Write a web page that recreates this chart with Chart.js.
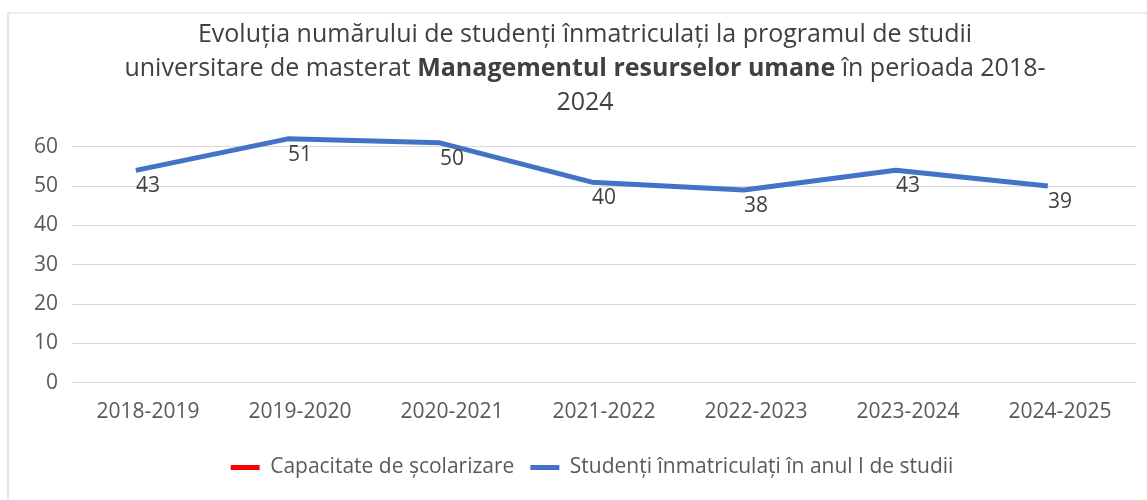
<!DOCTYPE html>
<html lang="ro">
<head>
    <meta charset="UTF-8">
    <title>Evoluția numărului de studenți înmatriculați</title>
    <script src="https://cdn.jsdelivr.net/npm/chart.js@4.4.8/dist/chart.umd.min.js"></script>
    <style>
        html, body { margin: 0; padding: 0; background: #fff; }
        #frame {
            position: absolute; left: 7px; top: 12px; right: 0; bottom: 0;
            border-left: 2px solid #e6e6e6; border-top: 2px solid #ececec;
        }
        #chart { position: absolute; left: 0; top: 0; }
    </style>
</head>
<body>
    <div id="frame"></div>
    <canvas id="chart" width="1147" height="500"></canvas>

    <script>
        // date
        const years = ['2018-2019', '2019-2020', '2020-2021', '2021-2022', '2022-2023', '2023-2024', '2024-2025'];
        const enrolled = [43, 51, 50, 40, 38, 43, 39];
        const capacity = [];   // seria rosie nu apare pe grafic, doar in legenda
        const yTicks = [0, 10, 20, 30, 40, 50, 60];

        const titleLines = [
            [['Evoluția numărului de studenți înmatriculați la programul de studii', false]],
            [['universitare de masterat ', false], ['Managementul resurselor umane', true], [' în perioada 2018-', false]],
            [['2024', false]]
        ];

        // in original linia albastra e desenata mai sus (~11 unitati) si putin la stanga fata de etichete
        const lineLift = 11;
        const lineShift = 0.08;
        const yMax = 64;

        const FONT = "'Open Sans', sans-serif";

        const titlePlugin = {
            id: 'mixedTitle',
            afterLayout(chart) {
                // legenda e putin spre dreapta in original
                chart.legend.left += 14;
                chart.legend.right += 14;
            },
            afterDraw(chart) {
                const ctx = chart.ctx;
                const cx = 585;
                const baselines = [42, 76, 110];
                ctx.save();
                ctx.fillStyle = '#404040';
                ctx.textBaseline = 'alphabetic';
                ctx.textAlign = 'left';
                titleLines.forEach((parts, i) => {
                    let total = 0;
                    const widths = parts.map(([txt, bold]) => {
                        ctx.font = (bold ? 'bold ' : '') + '25px ' + FONT;
                        const w = ctx.measureText(txt).width;
                        total += w;
                        return w;
                    });
                    let x = cx - total / 2;
                    parts.forEach(([txt, bold], j) => {
                        ctx.font = (bold ? 'bold ' : '') + '25px ' + FONT;
                        ctx.fillText(txt, x, baselines[i]);
                        x += widths[j];
                    });
                });
                ctx.restore();
            }
        };

        const labelPlugin = {
            id: 'valueLabels',
            afterDatasetsDraw(chart) {
                const ctx = chart.ctx;
                const meta = chart.getDatasetMeta(1);
                const xScale = chart.scales.x;
                ctx.save();
                ctx.font = '21px ' + FONT;
                ctx.fillStyle = '#404040';
                ctx.textAlign = 'center';
                ctx.textBaseline = 'middle';
                meta.data.forEach((pt, i) => {
                    ctx.fillText(String(enrolled[i]), xScale.getPixelForValue(i), pt.y + 16);
                });
                ctx.restore();
            }
        };

        const ctx = document.getElementById('chart').getContext('2d');
        const chart = new Chart(ctx, {
            type: 'line',
            data: {
                labels: years,
                datasets: [
                    {
                        label: 'Capacitate de școlarizare',
                        data: capacity,
                        borderColor: '#FF0000',
                        backgroundColor: '#FF0000',
                        borderWidth: 5,
                        pointRadius: 0
                    },
                    {
                        label: 'Studenți înmatriculați în anul I de studii',
                        data: enrolled.map((v, i) => ({ x: i, y: v })),
                        xAxisID: 'x2',
                        yAxisID: 'y2',
                        borderColor: '#4472C4',
                        backgroundColor: '#4472C4',
                        borderWidth: 5,
                        borderJoinStyle: 'round',
                        pointRadius: 0,
                        tension: 0,
                        fill: false
                    }
                ]
            },
            options: {
                responsive: false,
                animation: false,
                devicePixelRatio: 1,
                layout: { padding: { top: 131, left: 20, right: 11, bottom: 12 } },
                plugins: {
                    title: { display: false },
                    tooltip: { enabled: false },
                    legend: {
                        position: 'bottom',
                        labels: {
                            usePointStyle: true,
                            pointStyle: 'line',
                            pointStyleWidth: 29,
                            color: '#595959',
                            font: { family: FONT, size: 21 },
                            padding: 16
                        }
                    }
                },
                scales: {
                    x: {
                        offset: true,
                        afterFit(scale) { scale.height += 7; },
                        grid: { display: false },
                        border: { display: false },
                        ticks: { color: '#595959', font: { family: FONT, size: 21 }, padding: 9 }
                    },
                    y: {
                        min: 0,
                        max: yMax,
                        afterBuildTicks(scale) {
                            scale.ticks = yTicks.map(v => ({ value: v }));
                        },
                        afterFit(scale) { scale.width = 52; },
                        grid: { color: '#d9d9d9', lineWidth: 1, drawTicks: false },
                        border: { display: false },
                        ticks: { color: '#595959', font: { family: FONT, size: 21 }, padding: 14 }
                    },
                    x2: { type: 'linear', display: false, min: -0.5 + lineShift, max: years.length - 0.5 + lineShift },
                    y2: { type: 'linear', display: false, min: -lineLift, max: yMax - lineLift }
                }
            },
            plugins: [titlePlugin, labelPlugin]
        });
    </script>
</body>
</html>
